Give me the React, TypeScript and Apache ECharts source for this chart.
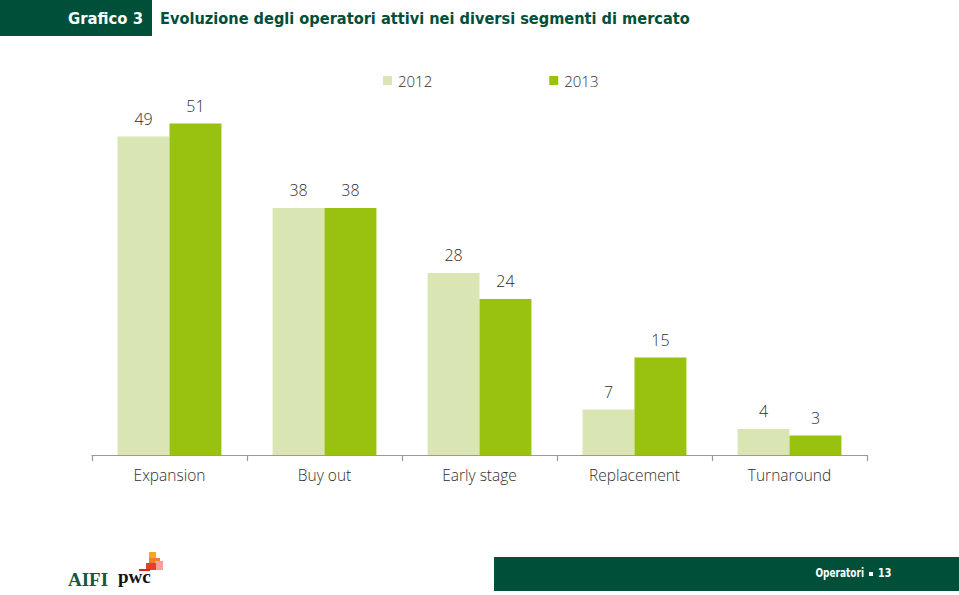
import React, { useEffect, useRef } from "react";
import * as echarts from "echarts";

const categories = ["Expansion", "Buy out", "Early stage", "Replacement", "Turnaround"];
const values2012 = [49, 38, 28, 7, 4];
const values2013 = [51, 38, 24, 15, 3];
const seriesNames = ["2012", "2013"];

const DARK_GREEN = "#004f38";
const LIGHT = "#d9e6b3";
const GREEN = "#98c20f";

export default function App() {
  const ref = useRef<HTMLDivElement>(null);
  useEffect(() => {
    if (!ref.current) return;
    const chart = echarts.init(ref.current, undefined, { renderer: "svg" });
    const labelStyle = {
      show: true,
      position: "top" as const,
      distance: 10,
      fontFamily: "Open Sans",
      fontWeight: 300,
      fontSize: 16,
      color: "#2e2e2e",
    };
    chart.setOption({
      animation: false,
      backgroundColor: "#ffffff",
      legend: {
        left: 378,
        top: 68,
        itemWidth: 9,
        itemHeight: 9,
        itemGap: 117,
        icon: "rect",
        textStyle: { fontFamily: "Open Sans", fontWeight: 300, fontSize: 15, color: "#2e2e2e", padding: [0, 0, 0, 1] },
        data: seriesNames,
      },
      grid: { left: 92, right: 92, top: 65, bottom: 140 },
      xAxis: {
        type: "category",
        data: categories,
        axisLine: { lineStyle: { color: "#9a9a9a", width: 1.2 } },
        axisTick: { show: true, length: 6, lineStyle: { color: "#9a9a9a", width: 1.2 } },
        axisLabel: { fontFamily: "Open Sans", fontWeight: 300, fontSize: 15.5, color: "#2e2e2e", margin: 12 },
      },
      yAxis: {
        type: "value",
        min: 0,
        max: 60,
        show: false,
        splitLine: { show: false },
      },
      series: [
        {
          name: seriesNames[0],
          type: "bar",
          data: values2012,
          barGap: "0%",
          barCategoryGap: "33%",
          itemStyle: { color: LIGHT },
          label: labelStyle,
        },
        {
          name: seriesNames[1],
          type: "bar",
          data: values2013,
          barGap: "0%",
          barCategoryGap: "33%",
          itemStyle: { color: GREEN },
          label: labelStyle,
        },
      ],
      graphic: [
        { type: "rect", shape: { x: 0, y: 0, width: 152, height: 36 }, style: { fill: DARK_GREEN } },
        {
          type: "text",
          x: 143,
          y: 18,
          style: {
            text: "Grafico 3",
            fill: "#ffffff",
            font: "bold 16.5px 'DejaVu Sans Condensed', 'Open Sans', sans-serif",
            align: "right",
            verticalAlign: "middle",
          },
        },
        {
          type: "text",
          x: 160,
          y: 18,
          style: {
            text: "Evoluzione degli operatori attivi nei diversi segmenti di mercato",
            fill: DARK_GREEN,
            font: "bold 16.2px 'DejaVu Sans Condensed', 'Open Sans', sans-serif",
            align: "left",
            verticalAlign: "middle",
          },
        },
        { type: "rect", shape: { x: 494, y: 557, width: 465, height: 34 }, style: { fill: DARK_GREEN } },
        {
          type: "text",
          x: 864,
          y: 573,
          scaleX: 0.8,
          style: {
            text: "Operatori",
            fill: "#ffffff",
            font: "bold 12.5px 'DejaVu Sans Condensed', 'Open Sans', sans-serif",
            align: "right",
            verticalAlign: "middle",
          },
        },
        { type: "rect", shape: { x: 869, y: 572, width: 4, height: 4 }, style: { fill: "#ffffff" } },
        {
          type: "text",
          x: 878,
          y: 573,
          scaleX: 0.85,
          style: {
            text: "13",
            fill: "#ffffff",
            font: "bold 12.5px 'DejaVu Sans Condensed', 'Open Sans', sans-serif",
            align: "left",
            verticalAlign: "middle",
          },
        },
        {
          type: "text",
          x: 68,
          y: 589,
          style: {
            text: "AIFI",
            fill: "#0e5a3c",
            font: "bold 19px 'Liberation Serif', 'DejaVu Serif', serif",
            align: "left",
            verticalAlign: "bottom",
          },
        },
        {
          type: "text",
          x: 118,
          y: 586,
          style: {
            text: "pwc",
            fill: "#111111",
            font: "bold 19px 'Liberation Serif', 'DejaVu Serif', serif",
            align: "left",
            verticalAlign: "bottom",
          },
        },
        { type: "rect", shape: { x: 149, y: 552, width: 7, height: 8 }, style: { fill: "#f5a623" } },
        { type: "rect", shape: { x: 149, y: 558, width: 11, height: 6 }, style: { fill: "#f07f2a" } },
        { type: "rect", shape: { x: 155, y: 561, width: 8, height: 9 }, style: { fill: "#f2a29a" } },
        { type: "rect", shape: { x: 146, y: 563, width: 10, height: 7 }, style: { fill: "#e2402e" } },
        { type: "rect", shape: { x: 139, y: 569, width: 11, height: 2 }, style: { fill: "#d9261c" } },
      ],
    });
    return () => chart.dispose();
  }, []);
  return <div ref={ref} style={{ position: "fixed", left: 0, top: 0, width: 959, height: 595 }} />;
}
